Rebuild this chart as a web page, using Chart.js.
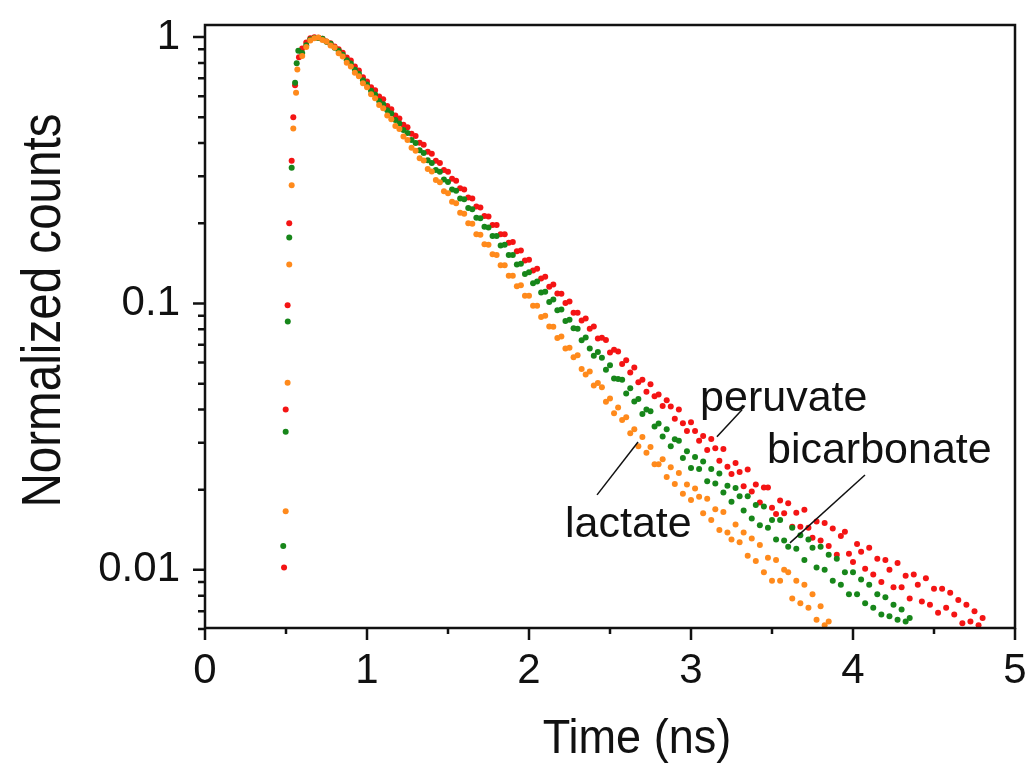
<!DOCTYPE html>
<html>
<head>
<meta charset="utf-8">
<script src="https://cdn.jsdelivr.net/npm/chart.js@4.4.0/dist/chart.umd.min.js"></script>
<style>
    html, body { margin: 0; padding: 0; background: #fff; }
    #wrap { width: 1030px; height: 767px; }
</style>
</head>
<body>
<div id="wrap"><canvas id="decay" width="1030" height="767"></canvas></div>
<script>
// Fluorescence decay, normalized counts vs time (ns)

// Rising edge, read point by point: [time, counts]
const peruvateRise = [[0.488, 0.0102], [0.498, 0.040], [0.510, 0.0985], [0.520, 0.20], [0.535, 0.343], [0.545, 0.50], [0.556, 0.66], [0.580, 0.84]];
const bicarbonateRise = [[0.483, 0.0123], [0.498, 0.033], [0.511, 0.0855], [0.520, 0.177], [0.535, 0.323], [0.556, 0.674], [0.566, 0.797], [0.576, 0.888]];
const lactateRise = [[0.498, 0.0166], [0.510, 0.0504], [0.520, 0.140], [0.535, 0.278], [0.545, 0.454], [0.562, 0.618], [0.570, 0.756]];

// Decay channels (ns)
const decayTimes = [
    0.600, 0.625, 0.650, 0.675, 0.700, 0.725, 0.750, 0.775, 0.800, 0.825,
    0.850, 0.875, 0.900, 0.925, 0.950, 0.975, 1.000, 1.025, 1.050, 1.075,
    1.100, 1.125, 1.150, 1.175, 1.200, 1.225, 1.250, 1.275, 1.300, 1.325,
    1.350, 1.375, 1.400, 1.425, 1.450, 1.475, 1.500, 1.525, 1.550, 1.575,
    1.600, 1.625, 1.650, 1.675, 1.700, 1.725, 1.750, 1.775, 1.800, 1.825,
    1.850, 1.875, 1.900, 1.925, 1.950, 1.975, 2.000, 2.025, 2.050, 2.075,
    2.100, 2.125, 2.150, 2.175, 2.200, 2.225, 2.250, 2.275, 2.300, 2.325,
    2.350, 2.375, 2.400, 2.425, 2.450, 2.475, 2.500, 2.525, 2.550, 2.575,
    2.600, 2.625, 2.650, 2.675, 2.700, 2.725, 2.750, 2.775, 2.800, 2.825,
    2.850, 2.875, 2.900, 2.925, 2.950, 2.975, 3.000, 3.025, 3.050, 3.075,
    3.100, 3.125, 3.150, 3.175, 3.200, 3.225, 3.250, 3.275, 3.300, 3.325,
    3.350, 3.375, 3.400, 3.425, 3.450, 3.475, 3.500, 3.525, 3.550, 3.575,
    3.600, 3.625, 3.650, 3.675, 3.700, 3.725, 3.750, 3.775, 3.800, 3.825,
    3.850, 3.875, 3.900, 3.925, 3.950, 3.975, 4.000, 4.025, 4.050, 4.075,
    4.100, 4.125, 4.150, 4.175, 4.200, 4.225, 4.250, 4.275, 4.300, 4.325,
    4.350, 4.375, 4.400, 4.425, 4.450, 4.475, 4.500, 4.525, 4.550, 4.575,
    4.600, 4.625, 4.650, 4.675, 4.700, 4.725, 4.750, 4.775, 4.800
];

const peruvate = [
    0.905, 0.955, 0.99, 0.998, 0.995, 0.985, 0.962, 0.948, 0.921, 0.901,
    0.874, 0.838, 0.816, 0.775, 0.749, 0.707, 0.681, 0.648, 0.631, 0.598,
    0.584, 0.551, 0.536, 0.508, 0.495, 0.469, 0.459, 0.434, 0.425, 0.401,
    0.394, 0.371, 0.365, 0.343, 0.337, 0.317, 0.312, 0.294, 0.289, 0.271,
    0.268, 0.250, 0.248, 0.231, 0.229, 0.213, 0.212, 0.197, 0.197, 0.182,
    0.182, 0.169, 0.170, 0.157, 0.158, 0.145, 0.146, 0.133, 0.135, 0.124,
    0.126, 0.1155, 0.1177, 0.109, 0.1088, 0.1005, 0.1017, 0.0922, 0.0922, 0.0864,
    0.0878, 0.0804, 0.0820, 0.0739, 0.0743, 0.0729, 0.0654, 0.0671, 0.0660, 0.0593,
    0.0612, 0.0551, 0.0575, 0.0506, 0.0517, 0.0466, 0.0497, 0.0448, 0.0455, 0.0412,
    0.0433, 0.0410, 0.0369, 0.0400, 0.0355, 0.0332, 0.0358, 0.0332, 0.0305, 0.0318,
    0.0282, 0.0310, 0.0286, 0.0257, 0.0284, 0.0244, 0.0229, 0.0252, 0.0233, 0.0206,
    0.0238, 0.0197, 0.0209, 0.0179, 0.0204, 0.0204, 0.0171, 0.0162, 0.0182, 0.0163,
    0.0178, 0.0145, 0.0164, 0.0145, 0.0168, 0.0144, 0.0132, 0.0152, 0.0129, 0.0150,
    0.0123, 0.0143, 0.0114, 0.0134, 0.0139, 0.0115, 0.0107, 0.0125, 0.0117, 0.0101,
    0.0121, 0.0096, 0.0110, 0.0090, 0.0109, 0.0100, 0.0086, 0.0106, 0.0086, 0.0095,
    0.0078, 0.0096, 0.0088, 0.0076, 0.0093, 0.0074, 0.0085, 0.0069, 0.0085, 0.0072,
    0.0082, 0.0068, 0.0077, 0.0063, 0.0074, 0.0064, 0.0070, 0.0062, 0.0066
];

const bicarbonate = [
    0.872, 0.932, 0.98, 0.993, 0.992, 0.986, 0.961, 0.944, 0.912, 0.889,
    0.859, 0.819, 0.795, 0.754, 0.729, 0.689, 0.664, 0.629, 0.609, 0.576,
    0.559, 0.531, 0.517, 0.488, 0.474, 0.448, 0.436, 0.411, 0.400, 0.376,
    0.367, 0.345, 0.337, 0.317, 0.312, 0.292, 0.286, 0.268, 0.265, 0.248,
    0.246, 0.228, 0.226, 0.210, 0.209, 0.194, 0.193, 0.179, 0.179, 0.165,
    0.166, 0.152, 0.152, 0.140, 0.141, 0.129, 0.131, 0.119, 0.121, 0.110,
    0.1107, 0.1013, 0.1034, 0.0943, 0.0949, 0.0859, 0.0869, 0.0808, 0.0804, 0.0728,
    0.0745, 0.0678, 0.0636, 0.0657, 0.0626, 0.0564, 0.0586, 0.0523, 0.0521, 0.0517,
    0.0459, 0.0481, 0.0429, 0.0438, 0.0385, 0.0400, 0.0394, 0.0345, 0.0354, 0.0317,
    0.0337, 0.0291, 0.0309, 0.0305, 0.0263, 0.0279, 0.0241, 0.0265, 0.0239, 0.0255,
    0.0215, 0.0239, 0.0211, 0.0230, 0.0195, 0.0207, 0.0180, 0.0203, 0.0189, 0.0167,
    0.0189, 0.0156, 0.0175, 0.0147, 0.0173, 0.0144, 0.0154, 0.0130, 0.0154, 0.0129,
    0.0122, 0.0144, 0.0120, 0.0135, 0.0109, 0.0130, 0.0121, 0.0102, 0.0122, 0.0100,
    0.0114, 0.0091, 0.0110, 0.0088, 0.0098, 0.0081, 0.0098, 0.0081, 0.0092, 0.0075,
    0.0088, 0.0072, 0.0081, 0.0068, 0.0079, 0.0067, 0.0074, 0.0065, 0.0071, 0.0064,
    0.0066
];

const lactate = [
    0.849, 0.918, 0.97, 0.99, 0.996, 0.975, 0.962, 0.929, 0.913, 0.870,
    0.846, 0.801, 0.776, 0.735, 0.712, 0.671, 0.648, 0.610, 0.589, 0.556,
    0.541, 0.508, 0.492, 0.464, 0.452, 0.423, 0.411, 0.384, 0.374, 0.351,
    0.344, 0.320, 0.313, 0.291, 0.285, 0.264, 0.259, 0.241, 0.238, 0.219,
    0.217, 0.200, 0.199, 0.182, 0.181, 0.167, 0.166, 0.153, 0.152, 0.139,
    0.139, 0.127, 0.127, 0.116, 0.117, 0.107, 0.107, 0.098, 0.098, 0.089,
    0.0900, 0.0820, 0.0818, 0.0742, 0.0751, 0.0677, 0.0682, 0.0628, 0.0639, 0.0567,
    0.0541, 0.0556, 0.0492, 0.0503, 0.0485, 0.0428, 0.0440, 0.0387, 0.0407, 0.0365,
    0.0374, 0.0326, 0.0337, 0.0291, 0.0315, 0.0275, 0.0289, 0.0249, 0.0249, 0.0260,
    0.0223, 0.0243, 0.0210, 0.0231, 0.0193, 0.0209, 0.0183, 0.0202, 0.0188, 0.0163,
    0.0185, 0.0154, 0.0169, 0.0141, 0.0165, 0.0138, 0.0130, 0.0148, 0.0127, 0.0138,
    0.0113, 0.0131, 0.0108, 0.0124, 0.0098, 0.0111, 0.0091, 0.0109, 0.0091, 0.0100,
    0.0098, 0.0078, 0.0091, 0.0075, 0.0088, 0.0072, 0.0081, 0.0065, 0.0073, 0.0062,
    0.0064
];

// Axis ticks
const xMajorTicks = [0, 1, 2, 3, 4, 5];
const xMinorTicks = [0.5, 1.5, 2.5, 3.5, 4.5];
const yMajorTicks = [1, 0.1, 0.01];
const yMinorTicks = [0.006, 0.007, 0.008, 0.009, 0.02, 0.03, 0.04, 0.05, 0.06, 0.07, 0.08, 0.09,
    0.2, 0.3, 0.4, 0.5, 0.6, 0.7, 0.8, 0.9];

// In-plot labels with leader lines (data coordinates)
const annotations = [
    { text: 'peruvate', at: [3.056, 0.0395], line: [[3.315, 0.0399], [3.160, 0.0316]] },
    { text: 'bicarbonate', at: [3.469, 0.0252], line: [[4.074, 0.0227], [3.611, 0.01263]] },
    { text: 'lactate', at: [2.222, 0.0133], line: [[2.420, 0.01912], [2.673, 0.0302]] }
];

const FONT = "'Liberation Sans', Arial, Helvetica, sans-serif";
const INK = '#111111';

function toPoints(rise, values) {
    const pts = rise.map(([t, v]) => ({ x: t, y: v }));
    values.forEach((v, i) => pts.push({ x: decayTimes[i], y: v }));
    return pts;
}

function series(label, rise, values, color, order) {
    return {
        label: label,
        data: toPoints(rise, values),
        showLine: false,
        pointRadius: 3,
        pointBorderWidth: 0,
        pointBackgroundColor: color,
        borderColor: color,
        order: order
    };
}

// frame, tick marks, axis titles and in-plot labels
const decorPlugin = {
    id: 'decor',
    afterDraw(chart) {
        const { ctx, chartArea: a } = chart;
        const xs = chart.scales.x;
        const ys = chart.scales.y;
        ctx.save();
        ctx.strokeStyle = INK;
        ctx.lineWidth = 2.5;
        ctx.strokeRect(a.left, a.top, a.right - a.left, a.bottom - a.top);

        ctx.beginPath();
        yMajorTicks.forEach(v => { const p = ys.getPixelForValue(v); ctx.moveTo(a.left - 12, p); ctx.lineTo(a.left, p); });
        yMinorTicks.forEach(v => { const p = ys.getPixelForValue(v); ctx.moveTo(a.left - 7, p); ctx.lineTo(a.left, p); });
        xMajorTicks.forEach(v => { const p = xs.getPixelForValue(v); ctx.moveTo(p, a.bottom); ctx.lineTo(p, a.bottom + 12); });
        xMinorTicks.forEach(v => { const p = xs.getPixelForValue(v); ctx.moveTo(p, a.bottom); ctx.lineTo(p, a.bottom + 6); });
        ctx.stroke();

        ctx.fillStyle = INK;
        ctx.textAlign = 'center';
        ctx.textBaseline = 'alphabetic';

        // axis titles use a slightly narrowed face, like the original
        ctx.save();
        ctx.translate((a.left + a.right) / 2 + 27, 753);
        ctx.scale(0.92, 1);
        ctx.font = '49px ' + FONT;
        ctx.fillText('Time (ns)', 0, 0);
        ctx.restore();

        ctx.save();
        ctx.translate(60, (a.top + a.bottom) / 2 - 16);
        ctx.rotate(-Math.PI / 2);
        ctx.scale(0.85, 1);
        ctx.font = '56px ' + FONT;
        ctx.fillText('Normalized counts', 0, 0);
        ctx.restore();

        ctx.font = '43px ' + FONT;
        ctx.textAlign = 'left';
        ctx.lineWidth = 1.5;
        annotations.forEach(an => {
            ctx.fillText(an.text, xs.getPixelForValue(an.at[0]), ys.getPixelForValue(an.at[1]));
            ctx.beginPath();
            ctx.moveTo(xs.getPixelForValue(an.line[0][0]), ys.getPixelForValue(an.line[0][1]));
            ctx.lineTo(xs.getPixelForValue(an.line[1][0]), ys.getPixelForValue(an.line[1][1]));
            ctx.stroke();
        });
        ctx.restore();
    }
};

const ctx = document.getElementById('decay').getContext('2d');
new Chart(ctx, {
    type: 'scatter',
    data: {
        datasets: [
            series('lactate', lactateRise, lactate, '#ff8a1c', 1),
            series('bicarbonate', bicarbonateRise, bicarbonate, '#17861a', 2),
            series('peruvate', peruvateRise, peruvate, '#f41414', 3)
        ]
    },
    options: {
        responsive: false,
        animation: false,
        devicePixelRatio: 1,
        layout: { padding: { top: 25, right: 15, left: 0, bottom: 0 } },
        plugins: {
            legend: { display: false },
            tooltip: { enabled: false },
            title: { display: false }
        },
        scales: {
            x: {
                type: 'linear',
                min: 0,
                max: 5,
                afterFit: s => {
                    s.height = 139;
                    s.paddingLeft = 0;
                    s.paddingRight = 0;
                },
                grid: { display: false, drawTicks: false },
                border: { display: false },
                ticks: {
                    stepSize: 1,
                    padding: 18,
                    maxRotation: 0,
                    color: INK,
                    font: { family: FONT, size: 42 },
                    callback: v => String(v)
                }
            },
            y: {
                type: 'logarithmic',
                min: 0.00605,
                max: 1.11,
                afterFit: s => {
                    s.width = 205;
                    s.paddingTop = 0;
                    s.paddingBottom = 0;
                },
                grid: { display: false, drawTicks: false },
                border: { display: false },
                ticks: {
                    autoSkip: false,
                    padding: 25,
                    color: INK,
                    font: { family: FONT, size: 42 },
                    callback: v => {
                        const lg = Math.log10(v);
                        return Math.abs(lg - Math.round(lg)) < 1e-6 ? String(+v.toPrecision(1)) : '';
                    }
                }
            }
        }
    },
    plugins: [decorPlugin]
});
</script>
</body>
</html>
